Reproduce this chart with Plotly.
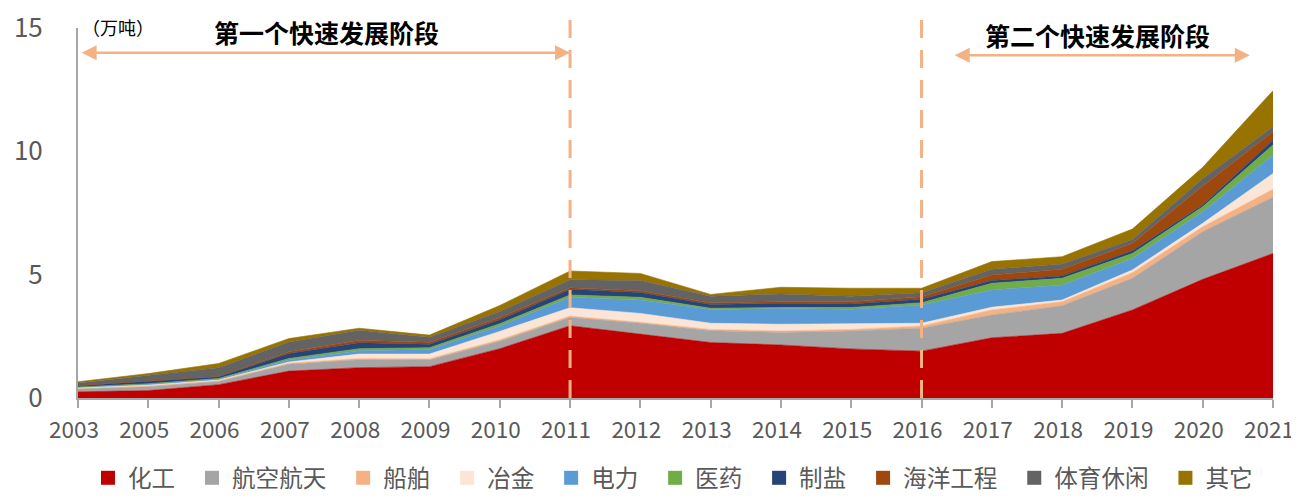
import plotly.graph_objects as go

# years on the x axis (2004 is missing in the source chart)
years = ["2003", "2005", "2006", "2007", "2008", "2009", "2010", "2011", "2012",
         "2013", "2014", "2015", "2016", "2017", "2018", "2019", "2020", "2021"]

# consumption by application, 万吨
huagong  = [0.25, 0.30, 0.54, 1.09, 1.23, 1.27, 2.00, 2.93, 2.59, 2.25, 2.15, 1.99, 1.90, 2.44, 2.62, 3.57, 4.81, 5.86]
hangkong = [0.12, 0.16, 0.13, 0.28, 0.32, 0.27, 0.30, 0.33, 0.44, 0.48, 0.51, 0.73, 0.93, 0.92, 1.12, 1.28, 1.93, 2.28]
chuanbo  = [0.02, 0.03, 0.03, 0.04, 0.05, 0.05, 0.06, 0.06, 0.04, 0.05, 0.06, 0.06, 0.09, 0.21, 0.16, 0.23, 0.20, 0.32]
yejin    = [0.03, 0.04, 0.03, 0.05, 0.18, 0.19, 0.34, 0.34, 0.36, 0.25, 0.27, 0.22, 0.11, 0.11, 0.07, 0.11, 0.14, 0.64]
dianli   = [0.02, 0.03, 0.04, 0.08, 0.14, 0.19, 0.22, 0.42, 0.54, 0.56, 0.64, 0.60, 0.74, 0.70, 0.61, 0.47, 0.47, 0.75]
yiyao    = [0.01, 0.02, 0.02, 0.06, 0.08, 0.07, 0.09, 0.10, 0.11, 0.05, 0.04, 0.07, 0.09, 0.27, 0.27, 0.20, 0.20, 0.41]
zhiyan   = [0.05, 0.10, 0.07, 0.20, 0.24, 0.14, 0.16, 0.23, 0.20, 0.15, 0.17, 0.14, 0.14, 0.11, 0.10, 0.11, 0.07, 0.20]
haiyang  = [0.01, 0.02, 0.01, 0.07, 0.10, 0.08, 0.09, 0.06, 0.07, 0.07, 0.06, 0.09, 0.10, 0.23, 0.27, 0.30, 0.77, 0.34]
tiyu     = [0.10, 0.22, 0.36, 0.40, 0.41, 0.20, 0.25, 0.32, 0.41, 0.27, 0.32, 0.23, 0.17, 0.23, 0.21, 0.16, 0.31, 0.20]
qita     = [0.05, 0.07, 0.17, 0.14, 0.08, 0.09, 0.24, 0.36, 0.29, 0.07, 0.27, 0.32, 0.18, 0.31, 0.30, 0.42, 0.45, 1.46]

series = [
    ("化工", huagong, "#C00000"),
    ("航空航天", hangkong, "#A5A5A5"),
    ("船舶", chuanbo, "#F4B183"),
    ("冶金", yejin, "#FBE5D6"),
    ("电力", dianli, "#5B9BD5"),
    ("医药", yiyao, "#70AD47"),
    ("制盐", zhiyan, "#264478"),
    ("海洋工程", haiyang, "#9E480E"),
    ("体育休闲", tiyu, "#636363"),
    ("其它", qita, "#997300"),
]

FONT = "Microsoft YaHei, Noto Sans CJK SC, sans-serif"
ACCENT = "#F4B183"

fig = go.Figure()

for name, vals, color in series:
    fig.add_trace(go.Scatter(x=years, y=vals, name=name, mode="lines",
                             stackgroup="one", fillcolor=color,
                             line=dict(width=0.6, color=color),
                             showlegend=False, hoverinfo="x+y+name"))

# legend entries with square swatches (en space pads the entry spacing)
for name, vals, color in series:
    fig.add_trace(go.Scatter(x=[None], y=[None], name=name + "\u2002", mode="markers",
                             marker=dict(symbol="square", size=14, color=color),
                             showlegend=True))

# phase markers
for idx in [7, 12]:
    fig.add_shape(type="line", xref="x", yref="paper", x0=idx, x1=idx, y0=0, y1=1.04,
                  line=dict(color=ACCENT, width=3, dash="18px,12px"))

fig.add_annotation(x=7, y=14.0, ax=0.03, ay=14.0, xref="x", yref="y", axref="x", ayref="y",
                   showarrow=True, arrowhead=2, arrowside="end+start", arrowsize=1.2,
                   arrowwidth=2.5, arrowcolor=ACCENT, text="")
fig.add_annotation(x=16.67, y=13.9, ax=12.45, ay=13.9, xref="x", yref="y", axref="x", ayref="y",
                   showarrow=True, arrowhead=2, arrowside="end+start", arrowsize=1.2,
                   arrowwidth=2.5, arrowcolor=ACCENT, text="")

fig.add_annotation(x=3.53, y=14.85, xref="x", yref="y", showarrow=False,
                   text="<b>第一个快速发展阶段</b>", font=dict(size=25, color="#000000", family=FONT))
fig.add_annotation(x=14.5, y=14.72, xref="x", yref="y", showarrow=False,
                   text="<b>第二个快速发展阶段</b>", font=dict(size=25, color="#000000", family=FONT))
fig.add_annotation(x=0.002, y=1.003, xref="paper", yref="paper", showarrow=False,
                   xanchor="left", yanchor="middle",
                   text="（万吨）", font=dict(size=18, color="#000000", family=FONT))

# page body adds an 8px offset; the figure is kept small enough to avoid scrollbars
fig.update_layout(
    width=1283, height=483,
    margin=dict(l=70, r=18, t=20, b=93, autoexpand=False),
    paper_bgcolor="white", plot_bgcolor="white",
    font=dict(family=FONT, color="#595959", size=24),
    showlegend=True,
    legend=dict(orientation="h", x=0.523, xanchor="center", xref="container",
                y=0.027, yanchor="middle", yref="container",
                font=dict(size=23.6, color="#595959", family=FONT), traceorder="normal"),
    xaxis=dict(type="category", range=[0, 17], showgrid=False, showline=True, automargin=False,
               linecolor="#A6A6A6", linewidth=2, ticks="outside", ticklen=8, ticklabelstandoff=3,
               ticklabeloverflow="allow", ticklabelshift=-4,
               tickcolor="#A6A6A6", tickwidth=2, tickfont=dict(size=22.5, color="#595959")),
    yaxis=dict(range=[0, 15], tickvals=[0, 5, 10, 15], showgrid=False, showline=True, automargin=False,
               linecolor="#A6A6A6", linewidth=2, ticks="", zeroline=False, ticklabelstandoff=28,
               ticklabeloverflow="allow",
               tickfont=dict(size=26, color="#595959")),
)

fig.write_html("out.html")
